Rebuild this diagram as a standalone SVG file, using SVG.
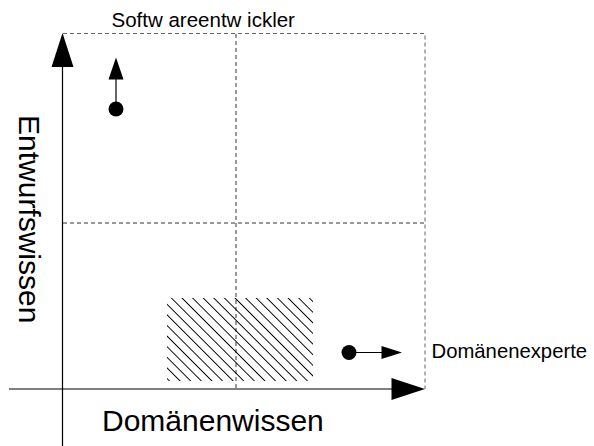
<svg xmlns="http://www.w3.org/2000/svg" width="594" height="446" viewBox="0 0 594 446">
  <style>
    .txt { font-family: "Liberation Sans", Arial, sans-serif; fill: #000; }
    .axis { stroke: #000; stroke-width: 1.2; fill: none; }
    .frame { stroke: #666; stroke-width: 1; stroke-dasharray: 4 3; fill: none; }
    .grid { stroke: #333; stroke-width: 1; stroke-dasharray: 4 3; fill: none; }
    .head { fill: #000; stroke: none; }
    .shaft { stroke: #000; stroke-width: 1.2; }
  </style>
  <defs>
    <pattern id="hatch" width="7.5" height="7.5" patternUnits="userSpaceOnUse" patternTransform="rotate(-45)">
      <line x1="0" y1="0" x2="0" y2="7.5" stroke="#000" stroke-width="1.2" shape-rendering="crispEdges"/>
    </pattern>
  </defs>

  <!-- quadrant frame and grid -->
  <g id="grid">
    <polyline class="frame" points="63,33.5 425,33.5 425,389"/>
    <line class="grid" x1="236" y1="34" x2="236" y2="389"/>
    <line class="grid" x1="63" y1="223" x2="425" y2="223"/>
  </g>

  <!-- hatched region -->
  <g id="region">
    <rect x="167" y="298" width="146" height="83" fill="url(#hatch)"/>
  </g>

  <!-- axes -->
  <g id="axes">
    <line class="axis" x1="62.5" y1="66" x2="62.5" y2="446"/>
    <polygon class="head" points="62.5,33 51.5,67 73.5,67"/>
    <line class="axis" x1="9" y1="389" x2="393" y2="389"/>
    <polygon class="head" points="425,389 391.5,378 391.5,400"/>
  </g>

  <g id="connectors">
    <line class="shaft" x1="116" y1="109" x2="116" y2="78"/>
    <polygon class="head" points="116,57.5 108.5,79.5 123.5,79.5"/>
    <line class="shaft" x1="349" y1="352.5" x2="383" y2="352.5"/>
    <polygon class="head" points="402,352.5 381.5,346 381.5,359"/>
  </g>

  <g id="softwareentwickler">
    <circle cx="116" cy="109" r="7.5" fill="#000"/>
    <text class="txt" x="111.5" y="27" font-size="20.5">Softw areentw ickler</text>
  </g>

  <g id="domaenenexperte">
    <circle cx="349" cy="352.5" r="7.5" fill="#000"/>
    <text class="txt" x="431.5" y="358" font-size="20.3">Domänenexperte</text>
  </g>

  <g id="labels">
    <text class="txt" x="102" y="431" font-size="30">Domänenwissen</text>
    <text class="txt" font-size="30" transform="translate(19,115) rotate(90)">Entwurfswissen</text>
  </g>
</svg>
